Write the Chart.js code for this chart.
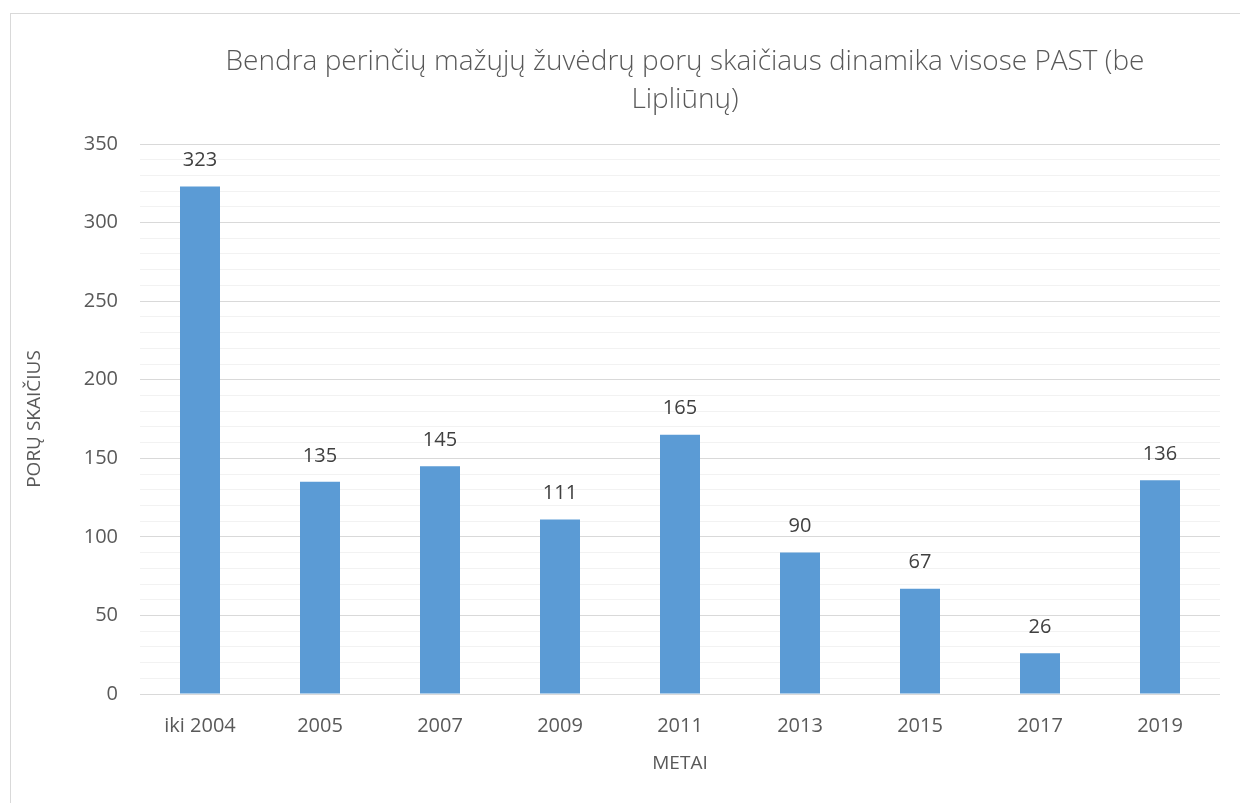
<!DOCTYPE html>
<html><head><meta charset="utf-8">
<script src="https://cdn.jsdelivr.net/npm/chart.js@4.4.1/dist/chart.umd.min.js"></script>
<style>
html,body{margin:0;padding:0;background:#fff;}
#wrap{position:relative;width:1240px;height:803px;}
#frame{position:absolute;left:10px;top:13px;width:1240px;height:800px;border:1px solid #d9d9d9;box-sizing:border-box;pointer-events:none;}
canvas{position:absolute;left:0;top:0;}
</style></head>
<body>
<div id="wrap"><canvas id="c" width="1240" height="803"></canvas><div id="frame"></div></div>
<script>
const categories = ['iki 2004','2005','2007','2009','2011','2013','2015','2017','2019'];
const pairs = [323,135,145,111,165,90,67,26,136];
const titleLines = ['Bendra perinčių mažųjų žuvėdrų porų skaičiaus dinamika visose PAST (be','Lipliūnų)'];
const yTitle = 'PORŲ SKAIČIUS';
const xTitle = 'METAI';
const FONT = "'Open Sans', 'Noto Sans', sans-serif";

const titlePlugin = {
  id:'customTitle',
  afterDraw(chart){
    const ctx = chart.ctx;
    ctx.save();
    ctx.font = "300 28px " + FONT;
    ctx.fillStyle = '#595959';
    ctx.textAlign = 'center';
    ctx.textBaseline = 'middle';
    const cx = 685;
    ctx.fillText(titleLines[0], cx, 62);
    ctx.fillText(titleLines[1], cx, 100);
    ctx.restore();
  }
};
const labelPlugin = {
  id:'barLabels',
  afterDatasetsDraw(chart){
    const ctx = chart.ctx;
    const meta = chart.getDatasetMeta(0);
    ctx.save();
    ctx.font = "20px " + FONT;
    ctx.fillStyle = '#404040';
    ctx.textAlign = 'center';
    ctx.textBaseline = 'middle';
    meta.data.forEach((bar,i)=>{
      ctx.fillText(String(chart.data.datasets[0].data[i]), bar.x, bar.y - 26);
    });
    ctx.restore();
  }
};

new Chart(document.getElementById('c'), {
  type:'bar',
  data:{labels:categories, datasets:[{data:pairs, backgroundColor:'#5b9bd5', borderWidth:0, categoryPercentage:1, barPercentage:1/3}]},
  options:{
    responsive:false, animation:false,
    layout:{padding:{top:144,right:20,left:0,bottom:0}},
    plugins:{legend:{display:false}, tooltip:{enabled:false}, title:{display:false}},
    scales:{
      x:{
        grid:{display:false, drawTicks:false},
        border:{display:false},
        ticks:{color:'#595959', font:{family:FONT,size:20}, padding:20, maxRotation:0, autoSkip:false},
        title:{display:true, text:xTitle, color:'#595959', font:{family:FONT,size:19}, padding:{top:4,bottom:28}},
        afterFit(s){ s.height = 109; }
      },
      y:{
        min:0, max:350,
        grid:{drawTicks:false, lineWidth:1, color:(c)=> (c.tick && c.tick.value % 50 === 0) ? '#d9d9d9' : '#f2f2f2'},
        border:{display:false},
        ticks:{stepSize:10, autoSkip:false, color:'#595959', font:{family:FONT,size:20}, padding:22,
          callback:(v)=> v % 50 === 0 ? String(v) : ''},
        title:{display:true, text:yTitle, color:'#595959', font:{family:FONT,size:19}, padding:{top:23,bottom:0}},
        afterFit(s){ s.width = 140; }
      }
    }
  },
  plugins:[titlePlugin, labelPlugin]
});
</script>
</body></html>
